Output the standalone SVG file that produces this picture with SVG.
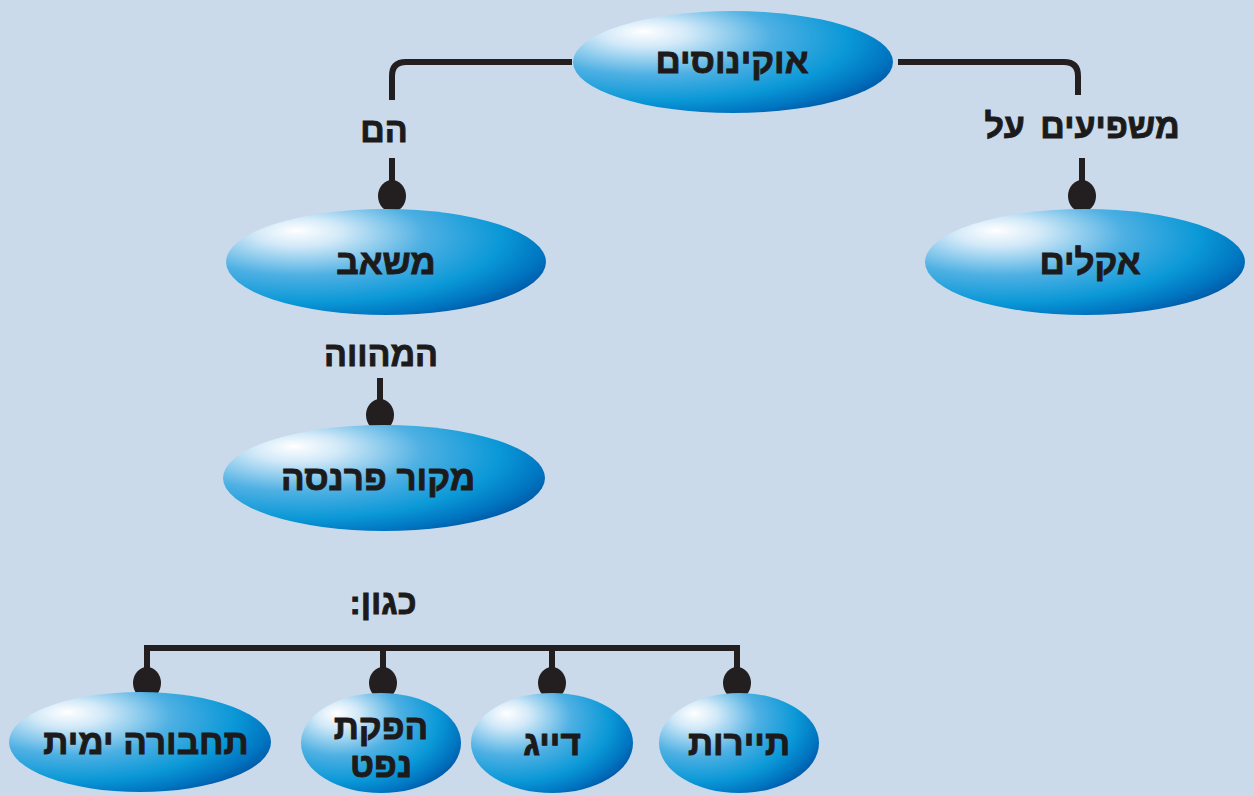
<svg xmlns="http://www.w3.org/2000/svg" width="1254" height="796" viewBox="0 0 1254 796">
  <defs>
    <radialGradient id="bubble" cx="0.26" cy="0.3" r="0.85" fx="0.22" fy="0.2">
      <stop offset="0" stop-color="#ffffff"/>
      <stop offset="0.16" stop-color="#d2e9f8"/>
      <stop offset="0.45" stop-color="#4eb0e3"/>
      <stop offset="0.72" stop-color="#0a98d7"/>
      <stop offset="0.88" stop-color="#0074c0"/>
      <stop offset="1" stop-color="#00509f"/>
    </radialGradient>
    <style>
      .node { fill: url(#bubble); }
      .lbl { font-family: "Liberation Sans", "DejaVu Sans", sans-serif; font-weight: bold; fill: #1c1a1b; stroke: #1c1a1b; stroke-width: 0.9; text-anchor: middle; direction: rtl; }
      .big { font-size: 35px; }
      .mid { font-size: 34px; }
      .wire { fill: none; stroke: #231f20; stroke-width: 6; }
      .knob { fill: #231f20; }
    </style>
  </defs>

  <rect width="1254" height="796" fill="#cadaea"/>

  <!-- connectors -->
  <g id="connectors">
    <path class="wire" d="M572 62 H406 Q392 62 392 76 V100"/>
    <path class="wire" d="M898 62 H1064 Q1078 62 1078 76 V95"/>
    <path class="wire" d="M392 158 V186"/>
    <ellipse class="knob" cx="392" cy="196" rx="14" ry="16"/>
    <path class="wire" d="M1082 158 V186"/>
    <ellipse class="knob" cx="1082" cy="196" rx="14" ry="16"/>
    <path class="wire" d="M380 378 V405"/>
    <ellipse class="knob" cx="380" cy="415" rx="14" ry="16"/>
    <path class="wire" d="M147 676 V648 H737 V676"/>
    <path class="wire" d="M383 648 V676"/>
    <path class="wire" d="M552 648 V676"/>
    <ellipse class="knob" cx="147" cy="683" rx="14" ry="16"/>
    <ellipse class="knob" cx="383" cy="683" rx="14" ry="16"/>
    <ellipse class="knob" cx="552" cy="683" rx="14" ry="16"/>
    <ellipse class="knob" cx="737" cy="683" rx="14" ry="16"/>
    <text class="lbl mid" x="384" y="142">הם</text>
    <text class="lbl mid" x="1082" y="138" word-spacing="6">משפיעים על</text>
    <text class="lbl mid" x="381" y="366">המהווה</text>
    <text class="lbl mid" x="383" y="614">כגון:</text>
  </g>

  <g id="n-oceans">
    <ellipse class="node" cx="733" cy="62" rx="160" ry="51"/>
    <text class="lbl big" x="732" y="73">אוקינוסים</text>
  </g>
  <g id="n-resource">
    <ellipse class="node" cx="386" cy="262" rx="160" ry="53"/>
    <text class="lbl big" x="386" y="274">משאב</text>
  </g>
  <g id="n-climate">
    <ellipse class="node" cx="1085" cy="262" rx="160" ry="53"/>
    <text class="lbl big" x="1090" y="274">אקלים</text>
  </g>
  <g id="n-livelihood">
    <ellipse class="node" cx="384" cy="478" rx="161" ry="53"/>
    <text class="lbl big" x="378" y="490">מקור פרנסה</text>
  </g>
  <g id="n-shipping">
    <ellipse class="node" cx="140" cy="742" rx="131" ry="50"/>
    <text class="lbl big" x="146" y="754">תחבורה ימית</text>
  </g>
  <g id="n-oil">
    <ellipse class="node" cx="381" cy="743" rx="80" ry="50"/>
    <text class="lbl big" x="381" y="739">הפקת</text>
    <text class="lbl big" x="381" y="777">נפט</text>
  </g>
  <g id="n-fishing">
    <ellipse class="node" cx="552" cy="743" rx="81" ry="50"/>
    <text class="lbl big" x="552" y="755">דייג</text>
  </g>
  <g id="n-tourism">
    <ellipse class="node" cx="739" cy="743" rx="80" ry="50"/>
    <text class="lbl big" x="739" y="755">תיירות</text>
  </g>
</svg>
